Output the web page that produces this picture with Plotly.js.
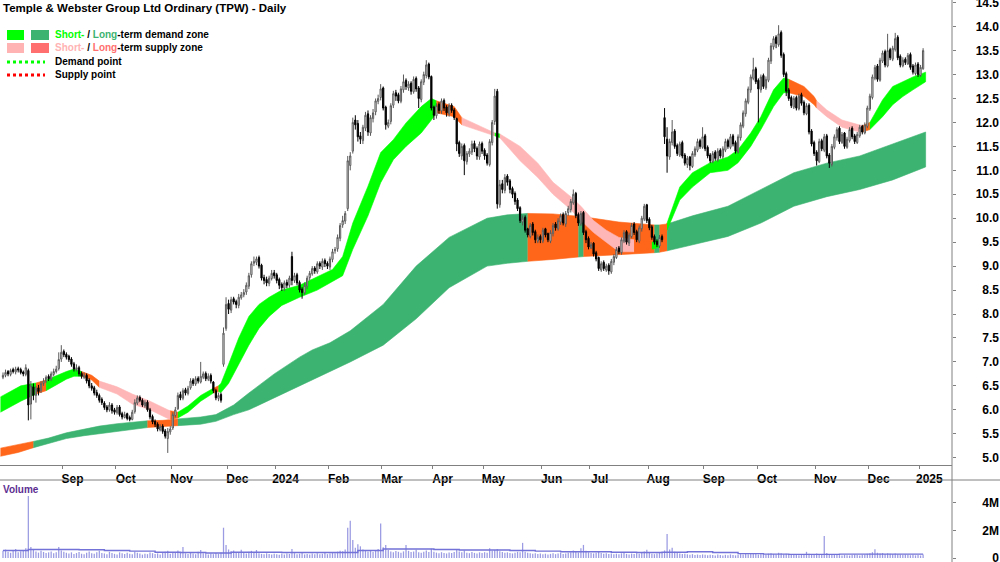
<!DOCTYPE html>
<html><head><meta charset="utf-8">
<script src="https://cdn.plot.ly/plotly-3.0.1.min.js"></script>
<style>html,body{margin:0;padding:0;background:#fff;}#chart{width:1000px;height:562px;}</style>
</head><body><div id="chart"></div>
<script>
// ---- Daily OHLC (AUD), first candle = 31 Jul 2023 ----
const openP = [
6.68,6.72,6.80,6.74,6.84,6.79,6.86,6.84,6.79,6.74,
6.82,6.12,6.48,6.30,6.46,6.40,6.55,6.60,6.70,6.64,
6.74,6.80,6.86,7.06,7.22,7.16,7.12,7.06,6.96,6.84,
6.88,6.76,6.68,6.72,6.62,6.50,6.46,6.36,6.30,6.22,
6.14,6.06,6.00,6.10,6.00,5.94,6.06,5.92,5.84,5.92,
5.84,5.80,5.96,6.14,6.26,6.20,6.08,6.16,6.00,5.86,
5.76,5.70,5.58,5.66,5.56,5.40,5.54,5.62,5.88,6.02,
6.32,6.24,6.42,6.34,6.46,6.62,6.54,6.66,6.58,6.68,
6.76,6.64,6.72,6.58,6.40,6.24,6.32,6.95,7.70,8.22,
8.08,8.32,8.26,8.18,8.34,8.40,8.46,8.58,8.82,9.06,
9.08,9.18,9.02,8.76,8.72,8.64,8.74,8.86,8.82,8.72,
8.62,8.54,8.66,8.60,9.20,8.70,8.82,8.66,8.52,8.44,
8.58,8.76,8.84,8.96,8.88,9.06,8.98,9.12,9.06,8.98,
9.14,9.32,9.36,9.58,9.86,9.94,10.20,11.10,11.40,12.05,
11.98,11.72,11.62,11.88,12.18,11.78,12.08,12.22,12.44,12.52,
12.72,12.32,11.92,12.02,12.36,12.62,12.58,12.44,12.68,12.88,
12.72,12.82,12.64,12.92,12.72,12.48,12.84,12.98,13.22,12.96,
12.32,12.14,12.38,12.24,12.46,12.32,12.18,12.36,12.26,12.08,
11.58,11.30,11.52,11.18,11.34,11.38,11.56,11.46,11.28,11.56,
11.42,11.32,11.12,11.58,12.02,12.65,10.28,10.72,10.58,10.88,
10.78,10.62,10.52,10.38,10.22,9.92,10.02,9.78,9.62,9.88,
9.72,9.52,9.62,9.52,9.78,9.68,9.52,9.68,9.88,9.78,
9.92,10.08,9.88,10.12,10.18,10.32,10.52,10.08,9.88,10.12,
9.72,9.58,9.38,9.48,9.28,9.18,8.92,9.08,8.92,9.02,
8.88,9.08,9.18,9.38,9.28,9.52,9.72,9.48,9.62,9.88,
9.72,9.52,9.78,9.98,10.28,9.98,9.82,9.62,9.52,9.42,
9.62,12.10,11.65,11.28,11.58,11.82,11.52,11.32,11.58,11.32,
11.12,11.28,11.08,11.32,11.42,11.62,11.48,11.72,11.48,11.32,
11.18,11.38,11.22,11.42,11.28,11.42,11.62,11.48,11.72,11.58,
11.38,11.68,11.92,12.18,12.42,12.68,12.92,13.12,12.88,12.68,
12.98,12.72,12.88,13.28,13.58,13.78,13.62,13.88,13.42,13.02,
12.68,12.52,12.32,12.52,12.28,12.58,12.42,12.18,12.36,11.82,
11.58,11.38,11.18,11.62,11.42,11.72,11.32,11.12,11.48,11.68,
11.88,11.58,11.78,11.48,11.62,11.88,11.72,11.58,11.72,11.92,
11.78,11.92,12.28,12.52,12.92,13.18,12.88,13.28,13.48,13.18,
13.52,13.32,13.52,13.78,13.38,13.18,13.32,13.22,13.42,13.18,
13.02,13.22,12.98,13.12];
const highP = [
6.78,6.84,6.83,6.86,6.88,6.90,6.90,6.88,6.82,6.95,
6.86,6.60,6.55,6.50,6.52,6.60,6.66,6.72,6.74,6.80,
6.86,6.92,7.20,7.35,7.26,7.20,7.15,7.10,7.00,6.95,
6.92,6.80,6.78,6.76,6.66,6.56,6.50,6.42,6.34,6.26,
6.18,6.10,6.16,6.14,6.04,6.10,6.10,5.96,5.96,5.94,
5.88,6.00,6.22,6.30,6.30,6.24,6.20,6.20,6.04,5.90,
5.80,5.74,5.70,5.70,5.60,5.62,5.66,5.95,6.06,6.36,
6.38,6.45,6.46,6.50,6.66,6.66,6.70,6.70,7.00,6.80,
6.80,6.76,6.76,6.60,6.44,6.36,6.36,7.72,8.35,8.30,
8.36,8.36,8.30,8.42,8.46,8.52,8.66,8.86,9.10,9.20,
9.20,9.22,9.05,8.82,8.78,8.80,8.92,8.92,8.86,8.76,
8.66,8.70,8.72,8.80,9.30,8.86,8.86,8.70,8.56,8.66,
8.80,8.90,9.00,9.00,9.10,9.10,9.16,9.16,9.10,9.20,
9.36,9.40,9.66,9.90,10.05,10.15,11.30,11.38,12.10,12.15,
12.05,11.80,11.95,12.22,12.25,12.15,12.28,12.50,12.58,12.80,
12.75,12.35,12.06,12.40,12.66,12.68,12.62,12.76,13.00,12.92,
12.86,12.86,12.96,12.96,12.76,12.90,13.06,13.30,13.25,12.98,
12.35,12.40,12.42,12.50,12.50,12.36,12.40,12.40,12.30,12.10,
11.62,11.56,11.56,11.40,11.46,11.62,11.62,11.50,11.60,11.60,
11.46,11.36,11.65,12.05,12.70,12.70,10.80,10.80,10.92,10.92,
10.82,10.66,10.56,10.42,10.25,10.06,10.06,9.80,9.90,9.92,
9.76,9.66,9.66,9.80,9.80,9.70,9.75,9.90,9.92,10.00,
10.10,10.12,10.15,10.26,10.40,10.60,10.55,10.12,10.15,10.15,
9.76,9.62,9.50,9.50,9.32,9.20,9.10,9.12,9.05,9.06,
9.15,9.25,9.40,9.42,9.60,9.75,9.75,9.70,9.90,9.92,
9.76,9.85,10.05,10.30,10.30,10.02,9.86,9.66,9.56,9.65,
9.66,12.30,11.90,11.66,12.05,11.86,11.56,11.60,11.62,11.36,
11.30,11.30,11.40,11.50,11.66,11.66,11.90,11.76,11.52,11.36,
11.40,11.42,11.46,11.46,11.50,11.66,11.66,11.76,11.76,11.62,
11.75,12.00,12.25,12.50,12.75,13.00,13.35,13.16,12.92,13.00,
13.02,12.96,13.35,13.66,13.80,13.82,14.03,13.92,13.46,13.06,
12.72,12.56,12.55,12.56,12.60,12.62,12.46,12.40,12.40,11.86,
11.62,11.42,11.66,11.66,11.76,11.76,11.36,11.55,11.75,11.90,
11.92,11.80,11.80,11.70,11.90,11.92,11.76,11.80,11.95,11.95,
12.00,12.35,12.60,13.00,13.20,13.22,13.35,13.50,13.52,13.85,
13.56,13.60,13.87,13.82,13.42,13.36,13.36,13.45,13.46,13.22,
13.25,13.26,13.20,13.55];
const lowP = [
6.64,6.68,6.70,6.70,6.76,6.74,6.78,6.74,6.70,6.70,
5.78,5.80,6.20,6.15,6.30,6.35,6.50,6.56,6.60,6.60,
6.70,6.76,6.82,7.00,7.10,7.05,7.00,6.90,6.80,6.80,
6.70,6.65,6.64,6.55,6.45,6.40,6.30,6.25,6.15,6.10,
6.00,5.95,5.96,5.92,5.90,5.90,5.86,5.80,5.82,5.78,
5.76,5.78,5.92,6.10,6.16,6.06,6.04,5.96,5.80,5.70,
5.64,5.55,5.55,5.50,5.40,5.10,5.48,5.58,5.84,6.00,
6.20,6.20,6.30,6.30,6.42,6.50,6.50,6.55,6.55,6.64,
6.60,6.60,6.55,6.35,6.20,6.18,6.15,6.90,7.65,8.00,
8.02,8.20,8.12,8.12,8.30,8.35,8.40,8.52,8.76,9.00,
9.02,8.95,8.70,8.62,8.58,8.58,8.70,8.74,8.64,8.52,
8.48,8.48,8.54,8.55,8.60,8.65,8.60,8.45,8.32,8.40,
8.52,8.70,8.80,8.84,8.84,8.94,8.92,8.98,8.94,8.92,
9.08,9.26,9.30,9.52,9.80,9.88,10.15,11.00,11.35,11.85,
11.60,11.55,11.55,11.82,11.72,11.72,12.00,12.15,12.38,12.46,
12.25,11.85,11.88,11.96,12.30,12.45,12.40,12.40,12.62,12.68,
12.66,12.58,12.60,12.64,12.30,12.42,12.78,12.92,12.90,12.25,
12.05,12.08,12.18,12.18,12.24,12.12,12.12,12.20,12.05,11.40,
11.28,11.22,10.90,11.12,11.28,11.32,11.38,11.22,11.22,11.34,
11.22,11.10,11.08,11.52,11.95,10.20,10.22,10.52,10.52,10.68,
10.52,10.42,10.28,10.15,9.90,9.85,9.70,9.60,9.58,9.64,
9.48,9.48,9.48,9.48,9.60,9.50,9.48,9.62,9.74,9.74,
9.86,9.85,9.82,10.05,10.12,10.28,10.00,9.84,9.84,9.65,
9.48,9.35,9.36,9.20,9.10,8.90,8.88,8.90,8.88,8.82,
8.84,9.02,9.15,9.25,9.24,9.48,9.45,9.42,9.58,9.65,
9.50,9.48,9.72,9.94,9.90,9.75,9.55,9.45,9.40,9.38,
9.50,11.55,10.95,11.22,11.52,11.45,11.30,11.28,11.25,11.10,
11.05,11.00,11.05,11.28,11.38,11.45,11.45,11.40,11.25,11.15,
11.15,11.20,11.18,11.25,11.24,11.38,11.45,11.44,11.50,11.35,
11.35,11.62,11.88,12.12,12.38,12.62,12.88,12.80,12.00,12.62,
12.70,12.68,12.84,13.22,13.52,13.55,13.58,13.35,12.95,12.55,
12.45,12.30,12.28,12.25,12.25,12.35,12.15,12.15,11.75,11.50,
11.30,11.10,11.15,11.40,11.38,11.25,11.05,11.08,11.44,11.62,
11.55,11.55,11.45,11.45,11.58,11.65,11.55,11.55,11.68,11.75,
11.75,11.88,12.24,12.48,12.88,12.85,12.85,13.24,13.15,13.15,
13.30,13.28,13.48,13.30,13.15,13.15,13.20,13.20,13.10,13.00,
12.98,12.95,12.95,13.10];
const closeP = [
6.72,6.78,6.75,6.82,6.80,6.85,6.83,6.78,6.75,6.88,
6.10,6.50,6.30,6.45,6.38,6.55,6.60,6.68,6.65,6.75,
6.80,6.85,7.05,7.20,7.15,7.10,7.05,6.95,6.85,6.88,
6.75,6.70,6.72,6.60,6.50,6.45,6.35,6.30,6.20,6.15,
6.05,6.00,6.10,5.98,5.95,6.05,5.90,5.85,5.90,5.82,
5.80,5.95,6.15,6.25,6.20,6.10,6.15,6.00,5.85,5.75,
5.70,5.60,5.65,5.55,5.45,5.55,5.60,5.90,6.00,6.30,
6.25,6.40,6.35,6.45,6.60,6.55,6.65,6.60,6.70,6.75,
6.65,6.70,6.60,6.40,6.25,6.30,6.20,7.60,8.20,8.10,
8.30,8.25,8.20,8.35,8.40,8.45,8.60,8.80,9.05,9.10,
9.15,9.00,8.75,8.70,8.65,8.75,8.85,8.80,8.70,8.60,
8.55,8.65,8.60,8.75,8.70,8.80,8.65,8.50,8.45,8.60,
8.75,8.85,8.95,8.90,9.05,9.00,9.10,9.05,9.00,9.15,
9.30,9.35,9.60,9.85,9.95,10.10,11.20,11.30,12.00,11.95,
11.70,11.65,11.90,12.15,11.80,12.10,12.20,12.45,12.50,12.70,
12.30,11.95,12.00,12.35,12.60,12.55,12.45,12.70,12.85,12.75,
12.80,12.65,12.90,12.70,12.50,12.85,13.00,13.20,12.95,12.30,
12.15,12.35,12.25,12.45,12.30,12.20,12.35,12.25,12.10,11.55,
11.35,11.50,11.20,11.35,11.40,11.55,11.45,11.30,11.55,11.40,
11.30,11.15,11.60,12.00,12.55,10.30,10.70,10.60,10.85,10.75,
10.60,10.50,10.35,10.20,9.95,10.00,9.75,9.65,9.85,9.70,
9.55,9.60,9.55,9.75,9.65,9.55,9.70,9.85,9.80,9.95,
10.05,9.90,10.10,10.20,10.35,10.50,10.05,9.90,10.10,9.70,
9.55,9.40,9.45,9.25,9.15,8.95,9.05,8.95,9.00,8.90,
9.10,9.20,9.35,9.30,9.55,9.70,9.50,9.65,9.85,9.70,
9.55,9.80,10.00,10.25,9.95,9.80,9.60,9.50,9.45,9.60,
9.55,11.70,11.30,11.60,11.80,11.50,11.35,11.55,11.30,11.15,
11.25,11.10,11.35,11.45,11.60,11.50,11.70,11.45,11.30,11.20,
11.35,11.25,11.40,11.30,11.45,11.60,11.50,11.70,11.55,11.40,
11.70,11.95,12.20,12.45,12.70,12.95,13.10,12.85,12.70,12.95,
12.75,12.90,13.30,13.60,13.75,13.65,13.85,13.40,13.00,12.65,
12.50,12.35,12.50,12.30,12.55,12.40,12.20,12.35,11.80,11.55,
11.35,11.20,11.60,11.45,11.70,11.30,11.15,11.50,11.70,11.85,
11.60,11.75,11.50,11.65,11.85,11.70,11.60,11.75,11.90,11.80,
11.95,12.30,12.55,12.95,13.15,12.90,13.30,13.45,13.20,13.50,
13.35,13.55,13.75,13.35,13.20,13.30,13.25,13.40,13.15,13.05,
13.20,13.00,13.15,13.50];
// ---- Daily volume (millions of shares) ----
const volumeM = [
0.52,0.61,0.45,0.38,0.55,0.66,0.42,0.49,0.58,0.71,
4.50,0.80,0.64,0.47,0.39,0.52,0.44,0.36,0.41,0.48,
0.35,0.42,0.80,0.55,0.46,0.38,0.33,0.41,0.29,0.36,
0.44,0.31,0.27,0.39,0.48,0.35,0.30,0.42,0.52,0.37,
0.33,0.28,0.45,0.36,0.30,0.26,0.41,0.34,0.29,0.38,
0.31,0.27,0.46,0.39,0.33,0.25,0.30,0.28,0.40,0.35,
0.29,0.33,0.26,0.38,0.45,0.52,0.31,0.36,0.42,0.55,
0.38,0.80,0.34,0.29,0.41,0.33,0.27,0.46,0.58,0.35,
0.30,0.26,0.33,0.28,0.37,0.31,0.40,2.20,0.95,0.62,
0.48,0.55,0.36,0.42,0.60,0.38,0.33,0.45,0.52,0.40,
0.58,0.35,0.30,0.27,0.34,0.29,0.25,0.31,0.28,0.24,
0.30,0.26,0.33,0.29,0.65,0.35,0.27,0.31,0.38,0.26,
0.29,0.25,0.32,0.28,0.34,0.27,0.30,0.36,0.28,0.33,
0.38,0.35,0.46,0.52,0.49,0.61,2.20,2.70,1.30,0.75,
1.00,0.85,0.62,0.55,0.48,0.58,0.44,0.52,0.66,2.50,
0.78,0.95,0.58,0.47,0.42,0.51,0.45,0.39,0.48,0.95,
0.52,0.43,0.47,0.60,0.41,0.38,0.46,0.55,0.43,0.68,
0.45,0.39,0.35,0.42,0.37,0.33,0.40,0.36,0.44,0.62,
0.48,0.41,0.55,0.39,0.35,0.43,0.37,0.33,0.41,0.36,
0.42,0.38,0.70,0.52,0.58,0.66,0.49,0.44,0.38,0.41,
0.36,0.33,0.39,0.45,0.42,1.10,0.46,0.38,0.34,0.31,
0.35,0.29,0.33,0.27,0.31,0.26,0.30,0.34,0.28,0.32,
0.36,0.29,0.33,0.38,0.42,0.55,0.46,0.40,0.70,0.95,
0.52,0.41,0.37,0.33,0.39,0.45,0.36,0.31,0.35,0.29,
0.33,0.28,0.31,0.27,0.34,0.38,0.30,0.26,0.32,0.29,
0.35,0.30,0.42,0.48,0.60,0.37,0.31,0.28,0.33,0.36,
0.40,0.55,1.75,0.62,0.75,0.45,0.38,0.33,0.29,0.31,
0.27,0.24,0.28,0.22,0.25,0.21,0.26,0.23,0.20,0.24,
0.22,0.19,0.25,0.21,0.18,0.23,0.20,0.26,0.22,0.19,
0.24,0.28,0.25,0.31,0.27,0.33,0.36,0.29,0.25,0.30,
0.27,0.24,0.32,0.35,0.29,0.26,0.38,0.34,0.28,0.31,
0.25,0.22,0.27,0.23,0.20,0.24,0.21,0.45,0.30,0.26,
0.28,0.33,0.25,0.29,1.60,0.36,0.27,0.24,0.22,0.26,
0.21,0.19,0.23,0.20,0.18,0.22,0.25,0.21,0.19,0.24,
0.26,0.31,0.35,0.42,0.63,0.38,0.33,0.36,0.29,0.34,
0.30,0.27,0.32,0.28,0.25,0.22,0.26,0.23,0.20,0.24,
0.19,0.21,0.18,0.25];
// volume average line, read every 10 sessions
const volAvgIdx = [0,10,20,30,40,50,60,70,80,90,100,110,120,130,140,150,160,170,180,190,200,210,220,230,240,250,260,270,280,290,300,310,320,330,340,350,360,363];
const volAvg = [0.55,0.62,0.62,0.60,0.55,0.50,0.42,0.40,0.36,0.42,0.42,0.40,0.40,0.40,0.55,0.65,0.65,0.62,0.58,0.58,0.55,0.50,0.45,0.45,0.42,0.40,0.42,0.45,0.40,0.32,0.28,0.26,0.26,0.28,0.28,0.28,0.28,0.28];

// ---- Month ticks (session index of first trading day - 0.5) ----
const monthTickIdx = [23.5,44.5,66.5,88.5,107.5,128.5,149.5,169.5,189.5,212.5,231.5,254.5,276.5,297.5,320.5,341.5,361.5];
const monthLabels = ['Sep','Oct','Nov','Dec','2024','Feb','Mar','Apr','May','Jun','Jul','Aug','Sep','Oct','Nov','Dec','2025'];
const priceTicks = [5.0,5.5,6.0,6.5,7.0,7.5,8.0,8.5,9.0,9.5,10.0,10.5,11.0,11.5,12.0,12.5,13.0,13.5,14.0,14.5];
const volTicks = [0,2,4];
const volTickText = ['0','2M','4M'];

// ---- Long-term zone (edges) ----
const longIdx   = [-1,6,12,18,25,32,38,45,51,57,63,69,78,84,91,97,107,117,122,129,137,150,163,176,191,199,207,217,227,229,243,257,259,262,272,286,299,312,325,338,351,364];
const longUpper = [5.20,5.27,5.34,5.41,5.52,5.60,5.66,5.71,5.74,5.77,5.78,5.81,5.85,5.90,6.10,6.35,6.75,7.10,7.25,7.40,7.65,8.20,9.00,9.60,10.00,10.07,10.10,10.09,10.04,10.03,9.92,9.86,9.86,9.88,10.05,10.25,10.60,10.95,11.15,11.30,11.55,11.80];
const longLower = [5.03,5.11,5.21,5.30,5.40,5.46,5.51,5.55,5.59,5.63,5.65,5.67,5.70,5.76,5.90,6.00,6.25,6.50,6.62,6.80,7.00,7.35,7.90,8.55,9.00,9.06,9.10,9.14,9.19,9.20,9.24,9.28,9.29,9.32,9.45,9.62,9.90,10.25,10.45,10.60,10.80,11.07];
// state of each interval: G demand, O supply
const longState = ('OO'+'GGGGGGG'+'OO'+'GGGGGGGGGGGGGGG'+'OO'+'G'+'OO'+'G'+'O'+'GGGGGGGG').split('');

// ---- Short-term zone ----
const shortIdx   = [-1,7,13,17,25,28,31,35,38,45,51,58,65,66,69,73,78,83,85,86,89,93,97,101,105,110,117,124,130,134,138,144,149,154,159,165,169,171,178,181,185,191,194,196,204,211,217,224,228,233,238,243,249,256,259,262,267,272,279,286,290,295,299,304,308,310,316,320,321,325,331,338,339,342,347,351,355,359,364];
const shortUpper = [6.27,6.50,6.56,6.62,6.80,6.85,6.80,6.72,6.60,6.48,6.33,6.18,6.00,5.98,5.95,6.08,6.30,6.45,6.50,6.55,6.95,7.50,7.95,8.20,8.35,8.50,8.60,8.78,8.93,9.20,9.90,10.67,11.37,11.64,11.99,12.33,12.50,12.45,12.33,12.10,12.00,11.85,11.78,11.76,11.50,11.15,10.75,10.45,10.25,9.95,9.75,9.60,9.55,9.50,9.55,9.90,10.65,10.95,11.16,11.28,11.43,11.78,12.12,12.68,12.93,12.90,12.75,12.54,12.45,12.26,12.05,11.95,11.93,12.00,12.47,12.75,12.85,12.95,13.05];
const shortLower = [5.95,6.18,6.33,6.40,6.64,6.70,6.70,6.62,6.47,6.33,6.12,6.00,5.82,5.80,5.83,5.95,6.18,6.35,6.38,6.36,6.55,6.95,7.35,7.70,7.95,8.18,8.35,8.50,8.68,8.80,9.35,10.05,10.74,11.22,11.50,11.78,12.05,12.20,12.12,11.95,11.88,11.77,11.72,11.68,11.20,10.85,10.50,10.18,9.95,9.70,9.50,9.30,9.30,9.35,9.40,9.75,10.38,10.65,10.95,11.00,11.16,11.50,11.85,12.33,12.62,12.62,12.54,12.37,12.30,12.12,11.90,11.80,11.80,11.85,12.12,12.37,12.54,12.68,12.85];
const shortState = ('GG'+'O'+'GGG'+'OO'+'PPPPP'+'O'+'GGG'+'O'+'GGGGGGGGGGGGGGGGGGG'+'OO'+'PPP'+'G'+'PPPPPPPPP'+'O'+'G'+'O'+'GGGGGGGGGG'+'OOO'+'PPPP'+'O'+'GGGGG').split('');

const N = closeP.length;
[openP,highP,lowP,volumeM].forEach((a,k)=>{ if(a.length!==N) throw new Error('length mismatch '+k+': '+a.length+' vs '+N); });
if (longState.length !== longIdx.length-1) throw new Error('longState '+longState.length);
if (shortState.length !== shortIdx.length-1) throw new Error('shortState '+shortState.length);

const dayIdx = closeP.map((_, i) => i);

const longColors  = {G:'#3cb371', O:'#ff661a', P:'#ffb6b6'};
const shortColors = {G:'#00ff00', O:'#ff661a', P:'#ffb6b6'};

function zoneTraces(idx, up, lo, state, colors) {
  const out = [];
  let k = 0;
  while (k < state.length) {
    const s = state[k]; let e = k;
    while (e + 1 < state.length && state[e+1] === s) e++;
    const xs = [], ys = [];
    for (let j = k; j <= e+1; j++) { xs.push(idx[j]); ys.push(up[j]); }
    for (let j = e+1; j >= k; j--) { xs.push(idx[j]); ys.push(lo[j]); }
    out.push({type:'scatter', mode:'lines', x:xs, y:ys, fill:'toself', fillcolor:colors[s],
      line:{width:0.6, color:colors[s]}, hoverinfo:'skip', showlegend:false, xaxis:'x', yaxis:'y'});
    k = e + 1;
  }
  return out;
}

const traces = [];
traces.push(...zoneTraces(longIdx, longUpper, longLower, longState, longColors));
traces.push(...zoneTraces(shortIdx, shortUpper, shortLower, shortState, shortColors));
// candles on an overlaid y axis (same scale) so they sit above the zones
traces.push({
  type:'candlestick', x:dayIdx, open:openP, high:highP, low:lowP, close:closeP,
  xaxis:'x', yaxis:'y5', whiskerwidth:0,
  increasing:{line:{color:'#5a5a5a', width:1}, fillcolor:'#ffffff'},
  decreasing:{line:{color:'#000000', width:1}, fillcolor:'#000000'},
  hoverinfo:'skip', showlegend:false
});
traces.push({type:'bar', x:dayIdx, y:volumeM, xaxis:'x2', yaxis:'y2', width:0.5,
  marker:{color:'#9b9be3', line:{width:0}}, hoverinfo:'skip', showlegend:false});
traces.push({type:'scatter', mode:'lines', x:volAvgIdx, y:volAvg, xaxis:'x2', yaxis:'y2',
  line:{color:'#7272d8', width:1.4, shape:'hv'}, hoverinfo:'skip', showlegend:false});
// carriers for the label axes
traces.push({type:'scatter', x:[0], y:[null], xaxis:'x', yaxis:'y3', hoverinfo:'skip', showlegend:false});
traces.push({type:'scatter', x:[0], y:[null], xaxis:'x2', yaxis:'y4', hoverinfo:'skip', showlegend:false});

const H = 562, W = 1000;
const py = v => 1 - v / H;
const px = v => v / W;
const xRange = [-1.18, 374.4];
const priceRange = [4.848, 14.556];
const volRange = [-0.073, 5.67];
const tickFont = {family:'Liberation Sans Narrow, Arial Narrow, sans-serif', size:12, color:'#000', weight:'bold'};
const axisGrey = '#808080';

const titleFont = {family:'Liberation Sans, Arial, sans-serif', size:11.5, color:'#000'};
const annFont = {family:'Liberation Sans, Arial, sans-serif', size:10, color:'#000'};
const annotations = [
  {text:'<b>Temple & Webster Group Ltd Ordinary (TPW) - Daily</b>', x:px(1), y:py(7.5), xref:'paper', yref:'paper', xanchor:'left', yanchor:'middle', showarrow:false, font:titleFont},
  {text:'<b><span style="color:#00ff00">Short-</span> / <span style="color:#3cb371">Long</span>-term demand zone</b>', x:px(53), y:py(35), xref:'paper', yref:'paper', xanchor:'left', yanchor:'middle', showarrow:false, font:annFont},
  {text:'<b><span style="color:#ffb3b3">Short-</span> / <span style="color:#ff6f6f">Long</span>-term supply zone</b>', x:px(53), y:py(48), xref:'paper', yref:'paper', xanchor:'left', yanchor:'middle', showarrow:false, font:annFont},
  {text:'<b>Demand point</b>', x:px(53), y:py(62), xref:'paper', yref:'paper', xanchor:'left', yanchor:'middle', showarrow:false, font:annFont},
  {text:'<b>Supply point</b>', x:px(53), y:py(75), xref:'paper', yref:'paper', xanchor:'left', yanchor:'middle', showarrow:false, font:annFont},
  {text:'<b>Volume</b>', x:px(1), y:py(489), xref:'paper', yref:'paper', xanchor:'left', yanchor:'middle', showarrow:false, font:{family:'Liberation Sans, Arial, sans-serif', size:10, color:'#5c2e91'}}
];

const rect = (x0,y0,x1,y1,c) => ({type:'rect', xref:'paper', yref:'paper', x0:px(x0), x1:px(x1), y0:py(y1), y1:py(y0), fillcolor:c, line:{width:0}});
const shapes = [
  rect(7,30,24,40,'#00ff00'), rect(31,30,49,40,'#3cb371'),
  rect(7,43,24,53,'#ffb3b3'), rect(31,43,49,53,'#ff6f6f'),
  {type:'line', xref:'paper', yref:'paper', x0:px(7), x1:px(45), y0:py(62), y1:py(62), line:{color:'#00ff00', width:3, dash:'dot'}},
  {type:'line', xref:'paper', yref:'paper', x0:px(7), x1:px(45), y0:py(75), y1:py(75), line:{color:'#ff0000', width:3, dash:'dot'}},
  {type:'line', xref:'paper', yref:'paper', x0:px(952), x1:px(952), y0:0, y1:1, line:{color:axisGrey, width:1}},
  {type:'line', xref:'paper', yref:'paper', x0:0, x1:1, y0:py(480), y1:py(480), line:{color:axisGrey, width:1}}
];

const hidden = {showticklabels:false, ticks:'', showline:false, showgrid:false, zeroline:false};
const layout = {
  width:W, height:H, margin:{l:0, r:0, t:0, b:0},
  paper_bgcolor:'#ffffff', plot_bgcolor:'#ffffff', showlegend:false, hovermode:false,
  xaxis:{domain:[0, 0.952], range:xRange, anchor:'y', type:'linear',
    tickmode:'array', tickvals:monthTickIdx, ticktext:monthLabels,
    ticks:'outside', ticklen:3, tickcolor:axisGrey, tickwidth:1,
    showline:true, linecolor:axisGrey, linewidth:1, showgrid:false, zeroline:false,
    rangeslider:{visible:false}, tickfont:tickFont, ticklabelshift:10, ticklabelstandoff:0},
  yaxis:{domain:[py(465), 1], range:priceRange, anchor:'x', side:'right',
    tickmode:'array', tickvals:priceTicks, ticks:'outside', ticklen:3, tickcolor:axisGrey,
    showticklabels:false, showline:false, showgrid:false, zeroline:false},
  yaxis3:{overlaying:'y', anchor:'free', position:0.999, side:'left', range:priceRange,
    tickmode:'array', tickvals:priceTicks, tickformat:'.1f', ticks:'', showline:false,
    showgrid:false, zeroline:false, tickfont:tickFont, ticklabeloverflow:'allow'},
  yaxis5:Object.assign({overlaying:'y', anchor:'x', side:'right', range:priceRange}, hidden),
  xaxis2:Object.assign({domain:[0, 0.952], range:xRange, anchor:'y2', type:'linear'}, hidden),
  yaxis2:{domain:[py(559), py(480)], range:volRange, anchor:'x2', side:'right',
    tickmode:'array', tickvals:volTicks, ticks:'outside', ticklen:3, tickcolor:axisGrey,
    showticklabels:false, showline:false, showgrid:false, zeroline:false},
  yaxis4:{overlaying:'y2', anchor:'free', position:0.999, side:'left', range:volRange,
    tickmode:'array', tickvals:volTicks, ticktext:volTickText, ticks:'', showline:false,
    showgrid:false, zeroline:false, tickfont:tickFont, ticklabeloverflow:'allow'},
  annotations:annotations, shapes:shapes
};

Plotly.newPlot('chart', traces, layout, {staticPlot:true, displayModeBar:false});
</script>
</body></html>
